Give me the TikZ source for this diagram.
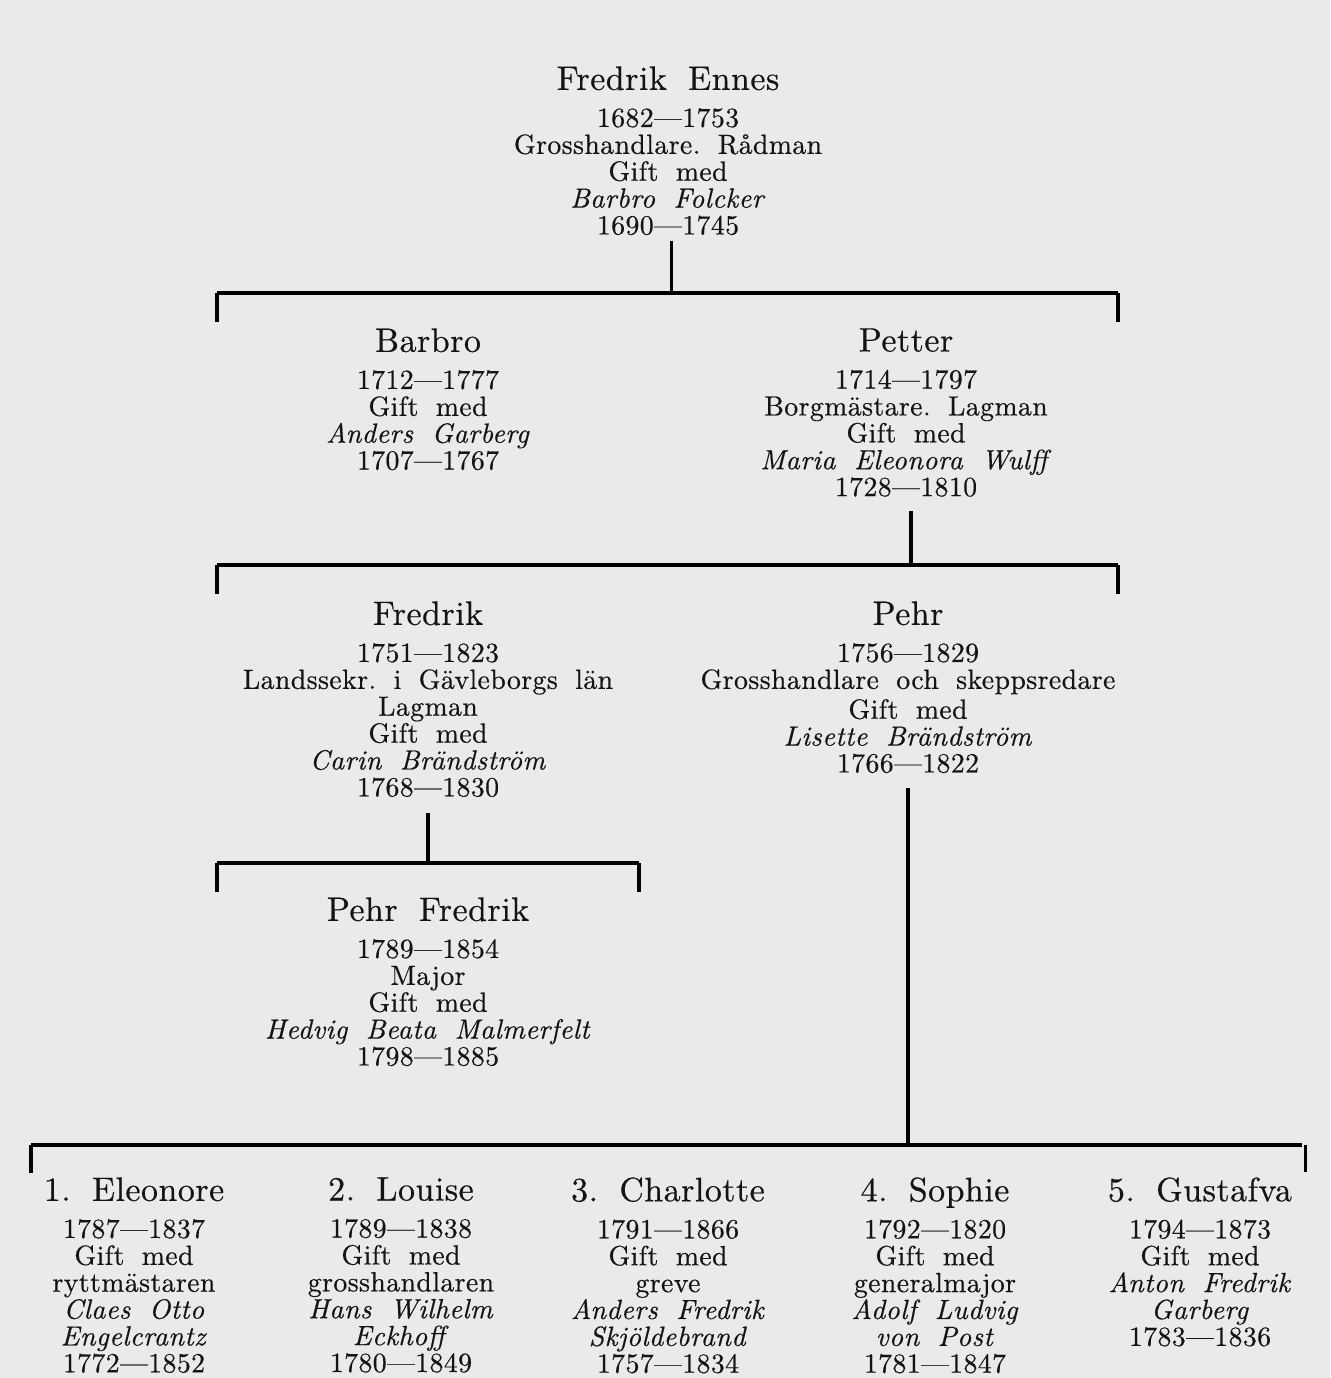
\documentclass[tikz,border=0pt]{standalone}
\usepackage{fontspec}
\setmainfont{lmroman10}[Extension=.otf, UprightFont=*-regular, ItalicFont=*-italic,
  BoldFont=*-bold, FakeBold=0.45, LetterSpace=1.5, WordSpace=1.8]
\frenchspacing

\definecolor{paper}{HTML}{EAEAE8}
\definecolor{ink}{HTML}{141414}
\newcommand{\pname}[1]{{\fontsize{19.3}{19.3}\selectfont #1}\\[5.8pt]}

\begin{document}
\begin{tikzpicture}[x=0.02cm, y=-0.02cm]
  \fill[paper] (0,0) rectangle (1330,1378);
  \useasboundingbox (0,0) rectangle (1330,1378);
  \tikzstyle{person}=[anchor=north, align=center, inner sep=0pt, text=ink,
    font=\fontsize{15.8}{15.3}\selectfont]
  \tikzstyle{bar}=[line width=2.8pt]
  \tikzstyle{stem}=[line width=2.2pt]
  \tikzstyle{tick}=[line width=2pt]

  % generation 1
  \path (668,66) node[person] (ennes) {\pname{Fredrik Ennes}1682---1753\\
    Grosshandlare. Rådman\\Gift med\\\textit{Barbro Folcker}\\1690---1745};

  % generation 2
  \path (428,328) node[person] (barbro) {\pname{Barbro}1712---1777\\Gift med\\
    \textit{Anders Garberg}\\1707---1767};
  \path (906,328) node[person] (petter) {\pname{Petter}1714---1797\\
    Borgmästare. Lagman\\Gift med\\\textit{Maria Eleonora Wulff}\\1728---1810};

  % generation 3
  \path (428,601) node[person] (fredrik) {\pname{Fredrik}1751---1823\\
    Landssekr. i Gävleborgs län\\Lagman\\Gift med\\\textit{Carin Brändström}\\1768---1830};
  \path (908,601) node[person] (pehr) {\pname{Pehr}1756---1829\\
    Grosshandlare och skeppsredare\\[1.7pt]Gift med\\\textit{Lisette Brändström}\\1766---1822};

  % generation 4
  \path (428,897) node[person] (pehrfr) {\pname{Pehr Fredrik}1789---1854\\Major\\
    Gift med\\\textit{Hedvig Beata Malmerfelt}\\1798---1885};
  \path (134,1177) node[person] (eleonore) {\pname{1. Eleonore}1787---1837\\Gift med\\
    ryttmästaren\\\textit{Claes Otto}\\\textit{Engelcrantz}\\1772---1852};
  \path (401,1177) node[person] (louise) {\pname{2. Louise}1789---1838\\Gift med\\
    grosshandlaren\\\textit{Hans Wilhelm}\\\textit{Eckhoff}\\1780---1849};
  \path (668,1177) node[person] (charlotte) {\pname{3. Charlotte}1791---1866\\Gift med\\
    greve\\\textit{Anders Fredrik}\\\textit{Skjöldebrand}\\1757---1834};
  \path (935,1177) node[person] (sophie) {\pname{4. Sophie}1792---1820\\Gift med\\
    generalmajor\\\textit{Adolf Ludvig}\\\textit{von Post}\\1781---1847};
  \path (1200,1177) node[person] (gustafva) {\pname{5. Gustafva}1794---1873\\Gift med\\
    \textit{Anton Fredrik}\\\textit{Garberg}\\1783---1836};

  % bars
  \coordinate (b1l) at (217,293);  \coordinate (b1r) at (1118,293);
  \coordinate (b2l) at (217,565);  \coordinate (b2r) at (1118,565);
  \coordinate (b3l) at (217,863);  \coordinate (b3r) at (639,863);
  \coordinate (b4l) at (31,1145);  \coordinate (b4r) at (1302,1145);

  \draw[stem, shorten <=3pt] ([xshift=2pt]ennes.south) -- ([xshift=2pt]ennes.south |- b1l);
  \draw[stem, shorten <=8pt] ([xshift=3pt]petter.south) -- ([xshift=3pt]petter.south |- b2l);
  \draw[stem, shorten <=9pt] (fredrik.south) -- (fredrik.south |- b3l);
  \draw[stem, shorten <=8.5pt] (pehr.south) -- (pehr.south |- b4l);

  \draw[bar] (b1l) -- (b1r);
  \draw[bar] (b2l) -- (b2r);
  \draw[bar] (b3l) -- (b3r);
  \draw[bar] (b4l) -- (b4r);
  \draw[tick] (b1l) -- ++(0,29)  (b1r) -- ++(0,29)
              (b2l) -- ++(0,29)  (b2r) -- ++(0,29)
              (b3l) -- ++(0,29)  (b3r) -- ++(0,29)
              (b4l) -- ++(0,28)  ([xshift=2pt]b4r) -- ++(0,27);
\end{tikzpicture}
\end{document}
